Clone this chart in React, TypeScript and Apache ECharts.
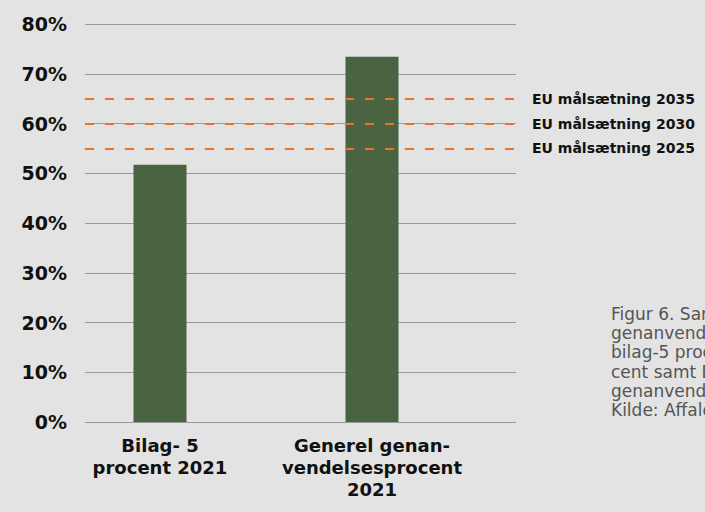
import React, { useEffect, useRef } from "react";
import * as echarts from "echarts";

const categories = ["Bilag- 5\nprocent 2021", "Generel genan-\nvendelsesprocent\n2021"];
const values = [51.7, 73.4];
const targetValues = [65, 60, 55];
const targetLabels = ["EU målsætning 2035", "EU målsætning 2030", "EU målsætning 2025"];
const captionLines = [
  "Figur 6. Sammenligning af",
  "genanvendelsesprocent for",
  "bilag-5 procent og generel pro-",
  "cent samt EU's målsætninger for",
  "genanvendelse.",
  "Kilde: Affaldsstatistik 2021",
];

const FONT = "'DejaVu Sans', sans-serif";

export default function App() {
  const ref = useRef<HTMLDivElement>(null);
  useEffect(() => {
    if (!ref.current) return;
    const chart = echarts.init(ref.current, undefined, { renderer: "svg" });
    const gridTop = 24;
    const gridBottom = 90;
    chart.setOption({
      animation: false,
      backgroundColor: "#e3e3e3",
      textStyle: { fontFamily: FONT },
      grid: [
        { left: 85, right: 189, top: gridTop, bottom: gridBottom },
        { left: 54, right: 227, top: gridTop, bottom: gridBottom },
      ],
      xAxis: [
        { type: "category", gridIndex: 0, data: categories, show: false },
        {
          type: "category",
          gridIndex: 1,
          data: categories,
          axisLine: { show: false },
          axisTick: { show: false },
          axisLabel: {
            color: "#111",
            fontSize: 18,
            fontWeight: "bold",
            fontFamily: FONT,
            lineHeight: 22,
            margin: 12,
            interval: 0,
          },
        },
      ],
      yAxis: [
        {
          type: "value",
          gridIndex: 0,
          min: 0,
          max: 80,
          interval: 10,
          axisLine: { show: false },
          axisTick: { show: false },
          axisLabel: {
            formatter: "{value}%",
            color: "#111",
            fontSize: 19,
            fontWeight: "bold",
            fontFamily: FONT,
            margin: 18,
          },
          splitLine: { lineStyle: { color: "#9a9a9a", width: 1 } },
        },
        {
          type: "value",
          gridIndex: 1,
          min: 0,
          max: 80,
          interval: 10,
          show: false,
          splitLine: { show: false },
        },
      ],
      series: [
        {
          type: "line",
          xAxisIndex: 0,
          yAxisIndex: 0,
          data: [],
          symbol: "none",
          silent: true,
          markLine: {
            silent: true,
            symbol: ["none", "none"],
            lineStyle: { color: "#ee7325", width: 2, type: [9, 11] },
            label: {
              position: "end",
              distance: 16,
              color: "#111",
              fontSize: 14,
              fontWeight: "bold",
              fontFamily: FONT,
              formatter: (p: any) => p.name,
            },
            data: targetValues.map((v, i) => ({ yAxis: v, name: targetLabels[i] })),
          },
        },
        {
          type: "bar",
          xAxisIndex: 1,
          yAxisIndex: 1,
          data: values,
          barWidth: 53,
          itemStyle: { color: "#4a6340" },
        },
      ],
      graphic: [
        {
          type: "text",
          left: 611,
          top: 304,
          style: {
            text: captionLines.join("\n"),
            fill: "#555",
            fontSize: 17,
            lineHeight: 19.3,
            fontFamily: FONT,
          },
        },
      ],
    });
    return () => chart.dispose();
  }, []);
  return (
    <div
      ref={ref}
      style={{ position: "fixed", left: 0, top: 0, width: 705, height: 512, overflow: "hidden" }}
    />
  );
}
